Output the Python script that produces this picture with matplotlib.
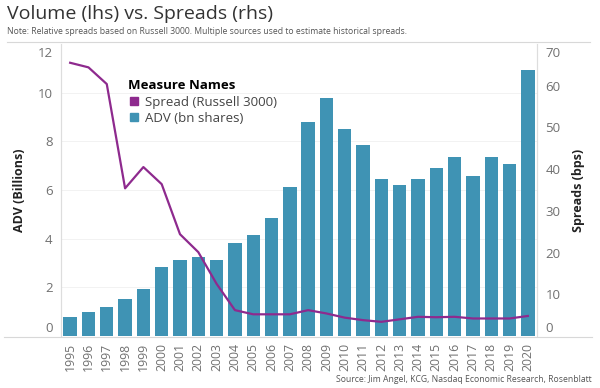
import numpy as np
import matplotlib
matplotlib.use("Agg")
import matplotlib.pyplot as plt
import matplotlib.transforms as transforms
from matplotlib.lines import Line2D

# ---------- data ----------
years = [str(y) for y in range(1995, 2021)]
adv_bn = [0.79, 0.99, 1.21, 1.52, 1.92, 2.84, 3.14, 3.23, 3.12, 3.83,
          4.14, 4.85, 6.14, 8.81, 9.80, 8.50, 7.85, 6.45, 6.21, 6.45,
          6.91, 7.37, 6.56, 7.35, 7.05, 10.94]
spread_bps = [65.5, 64.4, 60.4, 35.4, 40.5, 36.4, 24.4, 20.1, 12.5, 6.2,
              5.2, 5.2, 5.2, 6.2, 5.4, 4.4, 3.8, 3.4, 4.0, 4.6,
              4.5, 4.6, 4.2, 4.2, 4.2, 4.8]

BAR_COLOR = "#3F93B4"
LINE_COLOR = "#8E2A8E"
GREY = "#707070"

plt.rcParams.update({
    "font.family": ["Open Sans", "DejaVu Sans"],
    "axes.linewidth": 0.8,
})

fig = plt.figure(figsize=(6.0, 3.88), dpi=100)
ax = fig.add_axes([61 / 600, 1 - 336 / 388, 476 / 600, 292 / 388])
ax2 = ax.twinx()

x = np.arange(len(years))
ax.bar(x, adv_bn, width=0.73, color=BAR_COLOR, zorder=2)
ax2.plot(x, spread_bps, color=LINE_COLOR, linewidth=1.6, zorder=3)

ax.set_xlim(-0.5, len(years) - 0.5)
ax.set_ylim(0, 12)
ax2.set_ylim(0, 70)

ax.set_yticks([0, 2, 4, 6, 8, 10, 12])
ax2.set_yticks([0, 10, 20, 30, 40, 50, 60, 70])
ax.set_xticks(x)
ax.set_xticklabels(years, rotation=90, fontsize=8.8, color=GREY)
for a in (ax, ax2):
    a.tick_params(axis="y", length=0, labelsize=9.5, labelcolor=GREY, pad=6)
ax.tick_params(axis="x", length=0, pad=5)

# end labels pulled inside the plot area, Tableau-style
fig.canvas.draw()
for a in (ax, ax2):
    labels = a.get_yticklabels()
    for lab, dy in ((labels[0], 0.09), (labels[-1], -0.08)):
        lab.set_transform(lab.get_transform() +
                          transforms.ScaledTranslation(0, dy, fig.dpi_scale_trans))

# faint gridlines following the left axis
for gy in [2, 4, 6, 8, 10]:
    ax.axhline(gy, color="#f0f0f0", linewidth=0.6, zorder=0)

for a in (ax, ax2):
    a.spines["top"].set_visible(False)
    a.spines["bottom"].set_visible(False)
    a.spines["left"].set_color("#dddddd")
    a.spines["right"].set_color("#dddddd")

ax.set_ylabel("ADV (Billions)", fontsize=9, fontweight="bold", color="#222222", labelpad=8)
ax2.set_ylabel("Spreads (bps)", fontsize=9, fontweight="bold", color="#222222",
               rotation=90, labelpad=8)

# figure-wide rules
fig.add_artist(Line2D([7 / 600, 590 / 600], [1 - 42 / 388] * 2,
                      color="#d8d8d8", linewidth=0.8))
fig.add_artist(Line2D([4 / 600, 592 / 600], [1 - 337 / 388] * 2,
                      color="#d8d8d8", linewidth=0.8))

# legend
handles = [
    Line2D([], [], marker="s", linestyle="none", markersize=6,
           markerfacecolor=LINE_COLOR, markeredgecolor=LINE_COLOR),
    Line2D([], [], marker="s", linestyle="none", markersize=6,
           markerfacecolor=BAR_COLOR, markeredgecolor=BAR_COLOR),
]
leg = ax2.legend(handles, ["Spread (Russell 3000)", "ADV (bn shares)"],
                 title="Measure Names", loc="upper left",
                 bbox_to_anchor=(123 / 600, 1 - 74 / 388),
                 bbox_transform=fig.transFigure, frameon=False,
                 fontsize=9.5, handlelength=0.8, handletextpad=0.5,
                 labelspacing=0.25, borderaxespad=0)
leg.get_title().set_fontweight("bold")
leg.get_title().set_fontsize(9.5)
leg._legend_box.align = "left"
for t in leg.get_texts():
    t.set_color("#444444")

# titles
fig.text(7 / 600, 1 - 14 / 388, "Volume (lhs) vs. Spreads (rhs)", fontsize=14,
         color="#333333", va="center", ha="left")
fig.text(7 / 600, 1 - 31 / 388,
         "Note: Relative spreads based on Russell 3000. Multiple sources used to estimate historical spreads.",
         fontsize=6.2, color="#555555", va="center", ha="left")
fig.text(592 / 600, 1 - 379 / 388,
         "Source: Jim Angel, KCG, Nasdaq Economic Research, Rosenblatt",
         fontsize=6.2, color="#555555", va="center", ha="right")

fig.savefig("out.png", dpi=100, facecolor="white")
